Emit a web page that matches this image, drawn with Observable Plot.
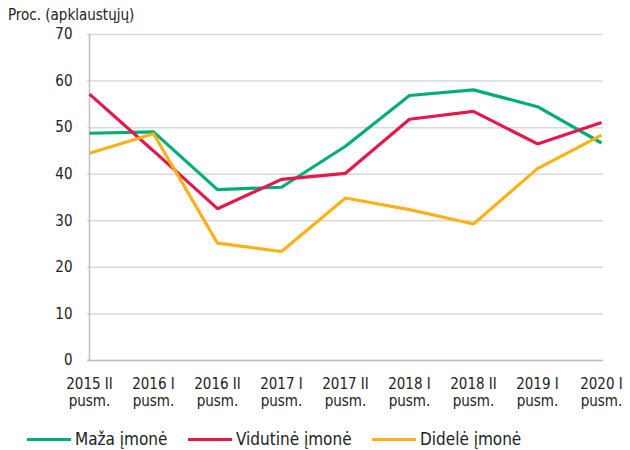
<!DOCTYPE html>
<html>
<head>
<meta charset="utf-8">
<script src="https://cdn.jsdelivr.net/npm/d3@7"></script>
<script src="https://cdn.jsdelivr.net/npm/@observablehq/plot@0.6"></script>
<style>
  body { margin: 0; background: #fff; }
  #wrap { position: relative; width: 630px; height: 450px; font-family: "DejaVu Sans Condensed", "DejaVu Sans", sans-serif; }
  #ylabel { position: absolute; left: 8px; top: 6px; font-family: "DejaVu Sans Condensed", "DejaVu Sans", sans-serif; font-size: 15px; color: #222; }
  #chart { position: absolute; left: 0; top: 0; }
  #legend { position: absolute; left: 0; top: 429px; width: 630px; height: 22px; font-family: "DejaVu Sans Condensed", "DejaVu Sans", sans-serif; font-size: 17px; color: #222; }
  .item { position: absolute; top: 0; display: flex; align-items: center; white-space: nowrap; }
  .sw { width: 44px; height: 3px; margin-right: 4px; }
</style>
</head>
<body>
<div id="wrap">
  <div id="chart"></div>
  <div id="ylabel">Proc. (apklaustųjų)</div>
  <div id="legend"></div>
</div>
<script>
const periods = ["2015 II pusm.", "2016 I pusm.", "2016 II pusm.", "2017 I pusm.", "2017 II pusm.", "2018 I pusm.", "2018 II pusm.", "2019 I pusm.", "2020 I pusm."];
const seriesNames = ["Maža įmonė", "Vidutinė įmonė", "Didelė įmonė"];
const seriesColors = ["#00ad78", "#e3194b", "#fdb118"];
const maza = [48.8, 49.1, 36.7, 37.2, 46.0, 56.9, 58.1, 54.5, 46.7];
const vidutine = [57.2, 45.0, 32.6, 38.9, 40.2, 51.8, 53.5, 46.5, 51.1];
const didele = [44.5, 48.7, 25.2, 23.4, 34.9, 32.4, 29.3, 41.2, 48.4];
const yTicks = [0, 10, 20, 30, 40, 50, 60, 70];

const allValues = [maza, vidutine, didele];
const data = [];
seriesNames.forEach((s, i) => periods.forEach((p, j) => data.push({series: s, period: p, value: allValues[i][j]})));

const chart = Plot.plot({
  width: 630,
  height: 415,
  marginTop: 34,
  marginBottom: 55,
  marginLeft: 87,
  marginRight: 27,
  style: {fontFamily: "'DejaVu Sans Condensed', 'DejaVu Sans', sans-serif", fontSize: "15px", color: "#222", background: "transparent"},
  x: {type: "point", domain: periods, padding: 0},
  y: {domain: [0, 70]},
  color: {domain: seriesNames, range: seriesColors},
  marks: [
    Plot.gridY(yTicks, {stroke: "#d9d9d9", strokeOpacity: 1, strokeWidth: 1.5}),
    Plot.ruleY([0], {stroke: "#bfbfbf", strokeWidth: 1.5}),
    Plot.ruleX([periods[0]], {y1: 0, y2: 70, stroke: "#bfbfbf", strokeWidth: 1.5}),
    Plot.axisY(yTicks, {tickSize: 0, tickPadding: 15, label: null, fontSize: 15}),
    Plot.axisX({tickSize: 0, tickPadding: 17, label: null, fontSize: 15, lineHeight: 1.12,
      tickFormat: d => d.replace(" pusm.", "\npusm.")}),
    Plot.line(data, {x: "period", y: "value", z: "series", stroke: "series", strokeWidth: 3.2, strokeLinejoin: "miter", strokeLinecap: "butt"})
  ]
});
document.getElementById("chart").appendChild(chart);

const legend = document.getElementById("legend");
const lefts = [27, 188, 372];
seriesNames.forEach((s, i) => {
  const it = document.createElement("div");
  it.className = "item";
  it.style.left = lefts[i] + "px";
  const sw = document.createElement("div");
  sw.className = "sw";
  sw.style.background = seriesColors[i];
  const t = document.createElement("span");
  t.textContent = s;
  it.appendChild(sw);
  it.appendChild(t);
  legend.appendChild(it);
});
</script>
</body>
</html>
